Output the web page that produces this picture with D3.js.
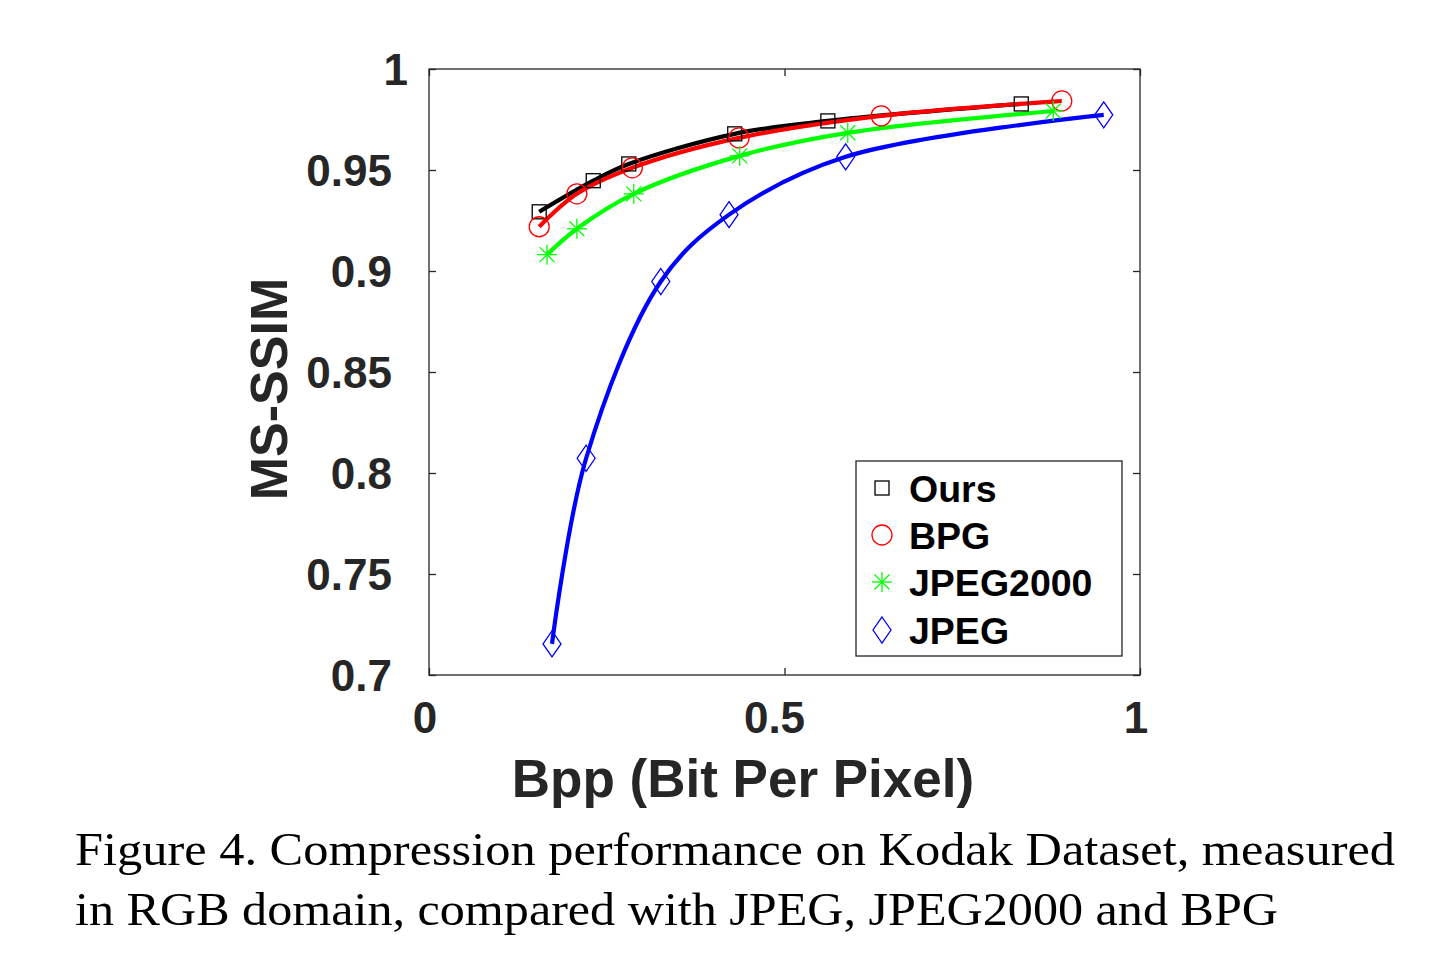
<!DOCTYPE html>
<html>
<head>
<meta charset="utf-8">
<script src="https://cdn.jsdelivr.net/npm/d3@7"></script>
<style>
  html, body { margin: 0; padding: 0; background: #fff; }
  svg { display: block; }
</style>
</head>
<body>
<svg id="chart" width="1443" height="953"></svg>
<script>
// ---- Data ----
const seriesNames = ["Ours", "BPG", "JPEG2000", "JPEG"];
const oursBpp   = [0.155, 0.231, 0.281, 0.430, 0.561, 0.833];
const oursSsim  = [0.9293, 0.9447, 0.9530, 0.9679, 0.9743, 0.9827];
const bpgBpp    = [0.155, 0.208, 0.286, 0.436, 0.636, 0.890];
const bpgSsim   = [0.9219, 0.9382, 0.9511, 0.9659, 0.9768, 0.9842];
const j2kBpp    = [0.166, 0.208, 0.288, 0.437, 0.589, 0.878];
const j2kSsim   = [0.9081, 0.9209, 0.9382, 0.9570, 0.9684, 0.9792];
const jpegBpp   = [0.173, 0.221, 0.326, 0.422, 0.586, 0.949];
const jpegSsim  = [0.7154, 0.8073, 0.8948, 0.9279, 0.9565, 0.9773];
const xTicks = [0, 0.5, 1];
const xTickLabels = ["0", "0.5", "1"];
const yTicks = [0.7, 0.75, 0.8, 0.85, 0.9, 0.95, 1];
const yTickLabels = ["0.7", "0.75", "0.8", "0.85", "0.9", "0.95", "1"];
const xTitle = "Bpp (Bit Per Pixel)";
const yTitle = "MS-SSIM";
const captionLines = [
  "Figure 4. Compression performance on Kodak Dataset, measured",
  "in RGB domain, compared with JPEG, JPEG2000 and BPG"
];

(function () {
// ---- Layout ----
const svg = d3.select("#chart");
const pL = 429, pR = 1140, pT = 69, pB = 675;
const x = d3.scaleLinear().domain([0, 1]).range([pL, pR]);
const y = d3.scaleLinear().domain([0.7, 1]).range([pB, pT]);
const axisColor = "#262626";
const sansBold = "Arial, 'Liberation Sans', Helvetica, sans-serif";

const series = [
  { name: seriesNames[0], xs: oursBpp, ys: oursSsim, color: "#000000", marker: "square" },
  { name: seriesNames[1], xs: bpgBpp,  ys: bpgSsim,  color: "#ff0000", marker: "circle" },
  { name: seriesNames[2], xs: j2kBpp,  ys: j2kSsim,  color: "#00ff00", marker: "star" },
  { name: seriesNames[3], xs: jpegBpp, ys: jpegSsim, color: "#0000ff", marker: "diamond" }
];

// Box
svg.append("rect")
  .attr("x", pL).attr("y", pT)
  .attr("width", pR - pL).attr("height", pB - pT)
  .attr("fill", "none").attr("stroke", axisColor).attr("stroke-width", 1.3);

// Axes (inward ticks) on all four sides
const tl = 7;
const gB = svg.append("g").attr("transform", `translate(0,${pB})`)
  .call(d3.axisBottom(x).tickValues(xTicks).tickSizeInner(-tl).tickSizeOuter(0).tickFormat(""));
const gT = svg.append("g").attr("transform", `translate(0,${pT})`)
  .call(d3.axisTop(x).tickValues(xTicks).tickSizeInner(-tl).tickSizeOuter(0).tickFormat(""));
const gL = svg.append("g").attr("transform", `translate(${pL},0)`)
  .call(d3.axisLeft(y).tickValues(yTicks).tickSizeInner(-tl).tickSizeOuter(0).tickFormat(""));
const gR = svg.append("g").attr("transform", `translate(${pR},0)`)
  .call(d3.axisRight(y).tickValues(yTicks).tickSizeInner(-tl).tickSizeOuter(0).tickFormat(""));
[gB, gT, gL, gR].forEach(g => {
  g.select(".domain").remove();
  g.selectAll(".tick line").attr("stroke", axisColor).attr("stroke-width", 1.3);
});

// Tick labels
svg.append("g").selectAll("text").data(xTicks).join("text")
  .attr("x", d => x(d) - (d === 0.5 ? 10 : 4)).attr("y", 733)
  .attr("text-anchor", "middle")
  .attr("font-family", sansBold).attr("font-weight", "bold").attr("font-size", 44)
  .attr("fill", axisColor)
  .text((d, i) => xTickLabels[i]);

svg.append("g").selectAll("text").data(yTicks).join("text")
  .attr("x", (d, i) => yTickLabels[i].length === 1 ? 408 : 392).attr("y", d => y(d))
  .attr("dy", "0.36em")
  .attr("text-anchor", "end")
  .attr("font-family", sansBold).attr("font-weight", "bold").attr("font-size", 44)
  .attr("fill", axisColor)
  .text((d, i) => yTickLabels[i]);

// Axis titles
svg.append("text")
  .attr("x", 743).attr("y", 797)
  .attr("text-anchor", "middle")
  .attr("font-family", sansBold).attr("font-weight", "bold").attr("font-size", 53)
  .attr("fill", axisColor)
  .text(xTitle);

svg.append("text")
  .attr("transform", `translate(287,389) rotate(-90)`)
  .attr("text-anchor", "middle")
  .attr("font-family", sansBold).attr("font-weight", "bold").attr("font-size", 52)
  .attr("fill", axisColor)
  .text(yTitle);

// Marker drawing
function drawMarker(g, type, color) {
  const sw = 1.3;
  if (type === "square") {
    g.append("rect").attr("x", -7).attr("y", -7).attr("width", 14).attr("height", 14)
      .attr("fill", "none").attr("stroke", color).attr("stroke-width", sw);
  } else if (type === "circle") {
    g.append("circle").attr("r", 10)
      .attr("fill", "none").attr("stroke", color).attr("stroke-width", sw);
  } else if (type === "star") {
    const r = 10, d = 7.5;
    const segs = [[-r, 0, r, 0], [0, -r, 0, r], [-d, -d, d, d], [-d, d, d, -d]];
    segs.forEach(s => g.append("line")
      .attr("x1", s[0]).attr("y1", s[1]).attr("x2", s[2]).attr("y2", s[3])
      .attr("stroke", color).attr("stroke-width", sw));
  } else if (type === "diamond") {
    g.append("path").attr("d", "M0,-13 L9,0 L0,13 L-9,0 Z")
      .attr("fill", "none").attr("stroke", color).attr("stroke-width", sw);
  }
}

// Lines
const line = d3.line()
  .x(d => x(d[0])).y(d => y(d[1]))
  .curve(d3.curveCatmullRom.alpha(0.5));

series.forEach(s => {
  const pts = s.xs.map((v, i) => [v, s.ys[i]]);
  svg.append("path")
    .datum(pts)
    .attr("d", line)
    .attr("fill", "none")
    .attr("stroke", s.color)
    .attr("stroke-width", 4.2)
    .attr("stroke-linecap", "butt");
});

// Markers
series.forEach(s => {
  const g = svg.append("g");
  s.xs.forEach((v, i) => {
    const mg = g.append("g").attr("transform", `translate(${x(v)},${y(s.ys[i])})`);
    drawMarker(mg, s.marker, s.color);
  });
});

// Legend
const lgX = 856, lgY = 461, lgW = 266, lgH = 195;
svg.append("rect")
  .attr("x", lgX).attr("y", lgY).attr("width", lgW).attr("height", lgH)
  .attr("fill", "#fff").attr("stroke", axisColor).attr("stroke-width", 1.3);
const legendY = [488, 535, 582, 630];
series.forEach((s, i) => {
  const mg = svg.append("g").attr("transform", `translate(882,${legendY[i]})`);
  drawMarker(mg, s.marker, s.color);
  svg.append("text")
    .attr("x", 909).attr("y", legendY[i])
    .attr("dy", "0.36em")
    .attr("font-family", sansBold).attr("font-weight", "bold").attr("font-size", 37.5)
    .attr("fill", "#000")
    .text(s.name);
});

// Caption
const capWidths = [1320, 1203];
const capBase = [865, 925];
captionLines.forEach((t, i) => {
  svg.append("text")
    .attr("x", 75).attr("y", capBase[i])
    .attr("font-family", "'Liberation Serif', 'Times New Roman', serif")
    .attr("font-size", 46)
    .attr("fill", "#000")
    .attr("textLength", capWidths[i])
    .attr("lengthAdjust", "spacingAndGlyphs")
    .text(t);
});
})();
</script>
</body>
</html>
